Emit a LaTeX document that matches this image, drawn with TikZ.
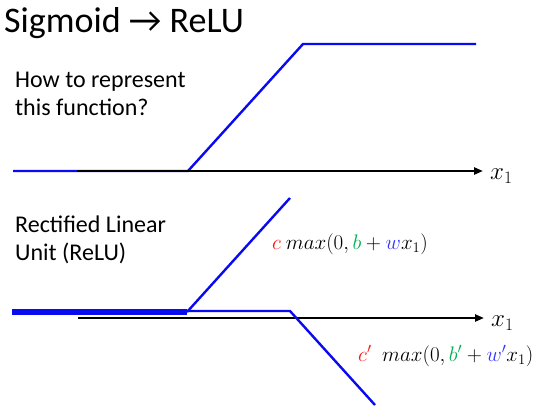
\documentclass[tikz,border=0pt]{standalone}
\usepackage{fix-cm}
\usepackage{amsmath}
\usepackage{fontspec}
\setmainfont{Carlito}
\usetikzlibrary{arrows.meta}

\definecolor{reluBlue}{RGB}{10,10,240}
\definecolor{coefRed}{RGB}{255,20,20}
\definecolor{coefGreen}{RGB}{0,176,80}
\definecolor{coefBlue}{RGB}{50,50,255}

\tikzset{
  axis/.style={line width=2.2pt, -{Triangle[length=9pt,width=7pt]}},
  curve/.style={line width=2.4pt, reluBlue},
  txt/.style={anchor=base west, inner sep=0pt},
  xlabel/.style={anchor=west, inner sep=0pt, font=\fontsize{25}{28}\selectfont},
  formula/.style={anchor=west, inner sep=0pt, font=\fontsize{21}{24}\selectfont}
}

\begin{document}
\begin{tikzpicture}[x=1pt, y=-1pt, font=\fontsize{24}{28}\selectfont]
  \useasboundingbox (0,0) rectangle (533,410);
  \node[txt, font=\fontsize{36}{40}\selectfont] (title) at (4,32) {Sigmoid → ReLU};
  \node[txt] (ask1) at (15,87) {How to represent};
  \node[txt] (ask2) at (15,115) {this function?};
  \node[txt] (relu1) at (15,232) {Rectified Linear};
  \node[txt] (relu2) at (15,260) {Unit (ReLU)};
  % top: hard sigmoid
  \coordinate (s0) at (13,171);
  \coordinate (s1) at (188,171);
  \coordinate (s2) at (303,44);
  \coordinate (s3) at (476,44);
  \draw[curve] (s0) -- (s1) -- (s2) -- (s3);
  \coordinate (ax1) at (77,171);
  \coordinate (ax1e) at (483,171);
  \draw[axis] (ax1) -- (ax1e);
  \node[xlabel] (xa) at (490,176) {$x_1$};
  % bottom: two ReLUs
  \coordinate (ax2) at (78,318);
  \coordinate (ax2e) at (484,318);
  \draw[axis] (ax2) -- (ax2e);
  \node[xlabel] (xb) at (491,323) {$x_1$};
  \coordinate (r0) at (12,312);
  \coordinate (r1) at (187,312);
  \coordinate (r2) at (290,198);
  \coordinate (q1) at (186,311);
  \coordinate (q2) at (290,311);
  \coordinate (q3) at (375,405);
  \draw[reluBlue, line width=6pt] (r0) -- (r1);
  \draw[curve] (r1) -- (r2);
  \draw[curve] (q1) -- (q2) -- (q3);
  % formulas
  \node[formula] (f1) at (272,244)
    {$\textcolor{coefRed}{c}\ max(0,\textcolor{coefGreen}{b}+\textcolor{coefBlue}{w}x_1)$};
  \node[formula] (f2) at (358,356)
    {$\textcolor{coefRed}{c'}\;\ max(0,\textcolor{coefGreen}{b'}+\textcolor{coefBlue}{w'}x_1)$};
\end{tikzpicture}
\end{document}
